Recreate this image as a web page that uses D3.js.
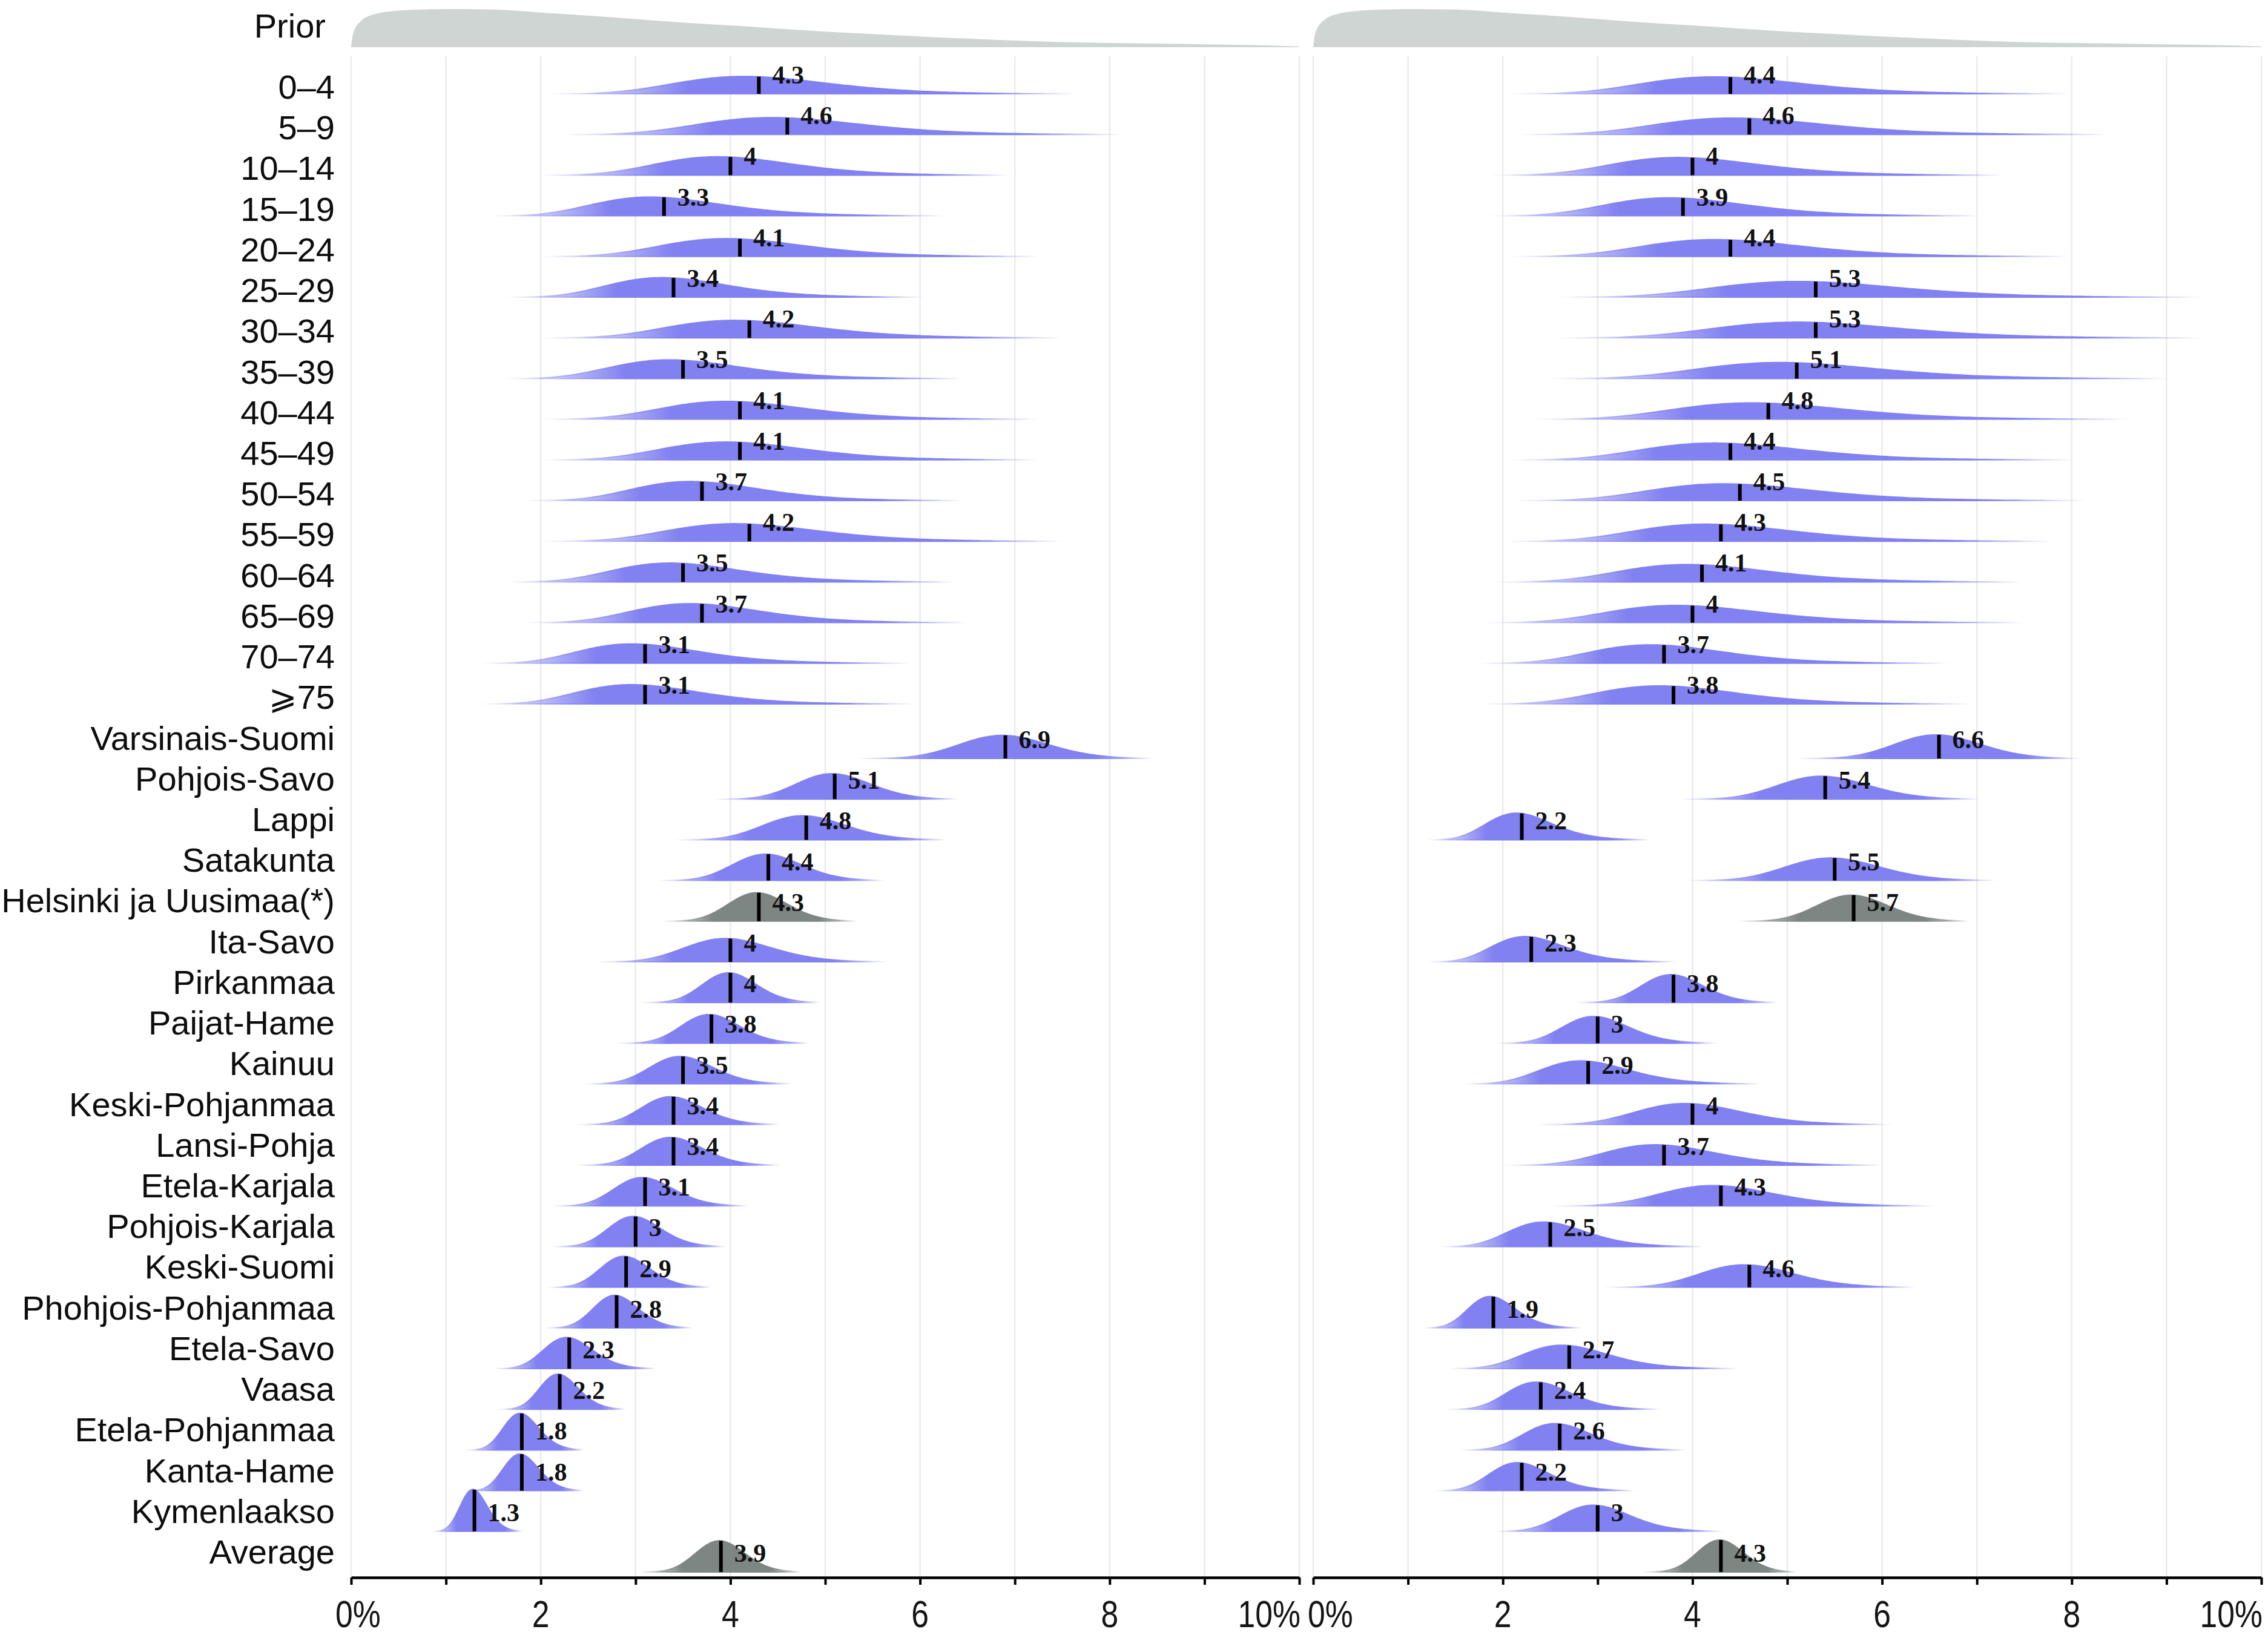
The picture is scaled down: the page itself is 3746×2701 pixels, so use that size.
<!DOCTYPE html>
<html><head><meta charset="utf-8">
<script src="https://cdn.jsdelivr.net/npm/d3@7/dist/d3.min.js"></script>
<style>body{margin:0;background:#fff}svg{display:block}</style>
</head><body>
<svg id="chart" width="3746" height="2701"></svg>
<script>
// ---------------- DATA ----------------
const ageGroups = ["0–4","5–9","10–14","15–19","20–24","25–29","30–34","35–39","40–44","45–49","50–54","55–59","60–64","65–69","70–74","⩾75"];
const regions = ["Varsinais-Suomi","Pohjois-Savo","Lappi","Satakunta","Helsinki ja Uusimaa(*)","Ita-Savo","Pirkanmaa","Paijat-Hame","Kainuu","Keski-Pohjanmaa","Lansi-Pohja","Etela-Karjala","Pohjois-Karjala","Keski-Suomi","Phohjois-Pohjanmaa","Etela-Savo","Vaasa","Etela-Pohjanmaa","Kanta-Hame","Kymenlaakso","Average"];
const highlighted = ["Helsinki ja Uusimaa(*)","Average"];

// left panel: posterior medians (%) and log-scale spread
const leftAgeMedian = [4.3,4.6,4.0,3.3,4.1,3.4,4.2,3.5,4.1,4.1,3.7,4.2,3.5,3.7,3.1,3.1];
const leftAgeSpread = [0.192,0.19,0.184,0.214,0.19,0.192,0.193,0.204,0.19,0.19,0.185,0.193,0.2,0.188,0.214,0.216];
const leftRegionMedian = [6.9,5.1,4.8,4.4,4.3,4.0,4.0,3.8,3.5,3.4,3.4,3.1,3.0,2.9,2.8,2.3,2.2,1.8,1.8,1.3,3.9];
const leftRegionSpread = [0.068,0.076,0.09,0.082,0.072,0.115,0.071,0.08,0.095,0.095,0.095,0.1,0.092,0.09,0.084,0.112,0.092,0.104,0.104,0.11,0.066];

// right panel
const rightAgeMedian = [4.4,4.6,4.0,3.9,4.4,5.3,5.3,5.1,4.8,4.4,4.5,4.3,4.1,4.0,3.7,3.8];
const rightAgeSpread = [0.198,0.2,0.2,0.197,0.198,0.19,0.19,0.19,0.195,0.2,0.198,0.198,0.2,0.21,0.198,0.2];
const rightRegionMedian = [6.6,5.4,2.2,5.5,5.7,2.3,3.8,3.0,2.9,4.0,3.7,4.3,2.5,4.6,1.9,2.7,2.4,2.6,2.2,3.0,4.3];
const rightRegionSpread = [0.068,0.088,0.16,0.09,0.065,0.17,0.085,0.117,0.163,0.141,0.161,0.14,0.166,0.108,0.133,0.169,0.141,0.138,0.145,0.122,0.057];

// prior density (relative height) read from the top strip
const priorX = [0,0.02,0.1,0.25,0.45,0.7,1.0,1.5,2,2.5,3,3.5,4,4.5,5,5.5,6,6.5,7,7.5,8,8.5,9,9.5,10];
const priorDensity = [0,0.35,0.68,0.87,0.95,0.985,1.0,0.99,0.91,0.83,0.74,0.645,0.57,0.49,0.41,0.345,0.28,0.225,0.175,0.135,0.11,0.095,0.075,0.055,0.02];

const xTickValues = [0,1,2,3,4,5,6,7,8,9,10];
const xTickLabels = {0:"0%",2:"2",4:"4",6:"6",8:"8",10:"10%"};

// ---------------- LAYOUT ----------------
const svg = d3.select("#chart");
const BLUE = "#8181f1", GRAY = "#7e8683", PRIOR = "#ced5d3";
const axisY = 2606, gridTop = 93;
const panels = [
  {range:[580,2146], ageMed:leftAgeMedian, ageSp:leftAgeSpread, regMed:leftRegionMedian, regSp:leftRegionSpread, zeroDx:-26},
  {range:[2169,3735], ageMed:rightAgeMedian, ageSp:rightAgeSpread, regMed:rightRegionMedian, regSp:rightRegionSpread, zeroDx:-9}
];
const yAge = d3.scalePoint().domain(ageGroups).range([155, 155 + 15*67.2]);
const yReg = d3.scalePoint().domain(regions).range([1253, 1253 + 20*67.2]);
const yLabel = d3.scalePoint().domain(ageGroups.concat(regions)).range([143, 2563]);
const hScale = d3.scalePow().exponent(-0.5).domain([0.153, 1]).range([67, 67*Math.sqrt(0.153)]);
const yPrior = d3.scaleLinear().domain([0,1]).range([78, 15]);

const defs = svg.append("defs");
let gid = 0;

// row labels
svg.append("g").selectAll("text").data(ageGroups.concat(regions)).join("text")
  .attr("x", 553).attr("y", d => yLabel(d) + 20)
  .attr("text-anchor","end")
  .style("font-family","'Liberation Sans', Arial, 'DejaVu Sans', sans-serif")
  .style("font-size","56px").attr("fill","#0d0d0d")
  .text(d => d);
svg.append("text").attr("x",538).attr("y",62).attr("text-anchor","end")
  .style("font-family","'Liberation Sans', Arial, sans-serif").style("font-size","56px").attr("fill","#0d0d0d")
  .text("Prior");

function relDensity(m, s) {
  const mu = Math.log(m);
  const g = x => Math.exp(-Math.pow(Math.log(x)-mu,2)/(2*s*s))/x;
  const peak = g(Math.exp(mu - s*s));
  return x => g(x)/peak;
}

panels.forEach(p => {
  const x = d3.scaleLinear().domain([0,10]).range(p.range);
  const g = svg.append("g");

  // prior
  g.append("path").datum(priorX.map((v,i)=>[v,priorDensity[i]]))
    .attr("d", d3.area().x(d=>x(d[0])).y0(yPrior(0)).y1(d=>yPrior(d[1])).curve(d3.curveMonotoneX))
    .attr("fill", PRIOR);

  // gridlines
  g.append("g").selectAll("line").data(xTickValues).join("line")
    .attr("x1", d=>x(d)).attr("x2", d=>x(d)).attr("y1", gridTop).attr("y2", axisY-2)
    .attr("stroke","#ebebeb").attr("stroke-width",2.5);

  const rows = ageGroups.map((name,i)=>({name, base:yAge(name), m:p.ageMed[i], s:p.ageSp[i]}))
    .concat(regions.map((name,i)=>({name, base:yReg(name), m:p.regMed[i], s:p.regSp[i]})));

  rows.forEach(r => {
    const f = relDensity(r.m, r.s);
    const h = hScale(r.m * r.s);
    const lo = -3.8, hi = 3.0;
    const xs = d3.range(0, 241).map(k => r.m*Math.exp(r.s*(lo + (hi-lo)*k/240))).filter(v => v <= 10);
    const pts = xs.map(v => [v, f(v)]);
    const col = highlighted.includes(r.name) ? GRAY : BLUE;
    const id = "gr" + (gid++);
    const x1 = x(r.m*Math.exp(r.s*lo)), x2 = x(r.m*Math.exp(r.s*hi));
    const grad = defs.append("linearGradient").attr("id", id).attr("gradientUnits","userSpaceOnUse")
      .attr("x1", x1).attr("x2", x2).attr("y1", 0).attr("y2", 0);
    const off = t => (t - lo)/(hi - lo);
    [[0,0],[off(-2.0),1],[off(1.7),1],[1,0]].forEach(([o,a]) =>
      grad.append("stop").attr("offset", o).attr("stop-color", col).attr("stop-opacity", a));
    g.append("path").datum(pts)
      .attr("d", d3.area().x(d=>x(d[0])).y0(r.base).y1(d=>r.base - h*d[1]))
      .attr("fill", `url(#${id})`).attr("stroke", `url(#${id})`).attr("stroke-width", 2);
    g.append("line").attr("x1", x(r.m)).attr("x2", x(r.m))
      .attr("y1", r.base).attr("y2", r.base - h*f(r.m))
      .attr("stroke","#000").attr("stroke-width",6);
    g.append("text").attr("x", x(r.m) + 22).attr("y", r.base - 17)
      .style("font-family","'Liberation Serif','Times New Roman',serif").style("font-weight","bold")
      .style("font-size","42px").attr("fill","#111").text(String(r.m));
  });

  // axis
  const ax = g.append("g").attr("transform", `translate(0,${axisY})`)
    .call(d3.axisBottom(x).tickValues(xTickValues).tickSize(12).tickSizeOuter(0).tickFormat(""));
  ax.select(".domain").attr("stroke","#000").attr("stroke-width",4.5);
  ax.selectAll(".tick line").attr("stroke","#000").attr("stroke-width",4);
  g.append("g").selectAll("text").data(xTickValues.filter(v => xTickLabels[v] !== undefined)).join("text")
    .attr("transform", v => {
      let dx = 0;
      if (v === 0) dx = p.zeroDx;
      if (v === 10) dx = 2;
      return `translate(${x(v)+dx},2688) scale(0.82,1)`;
    })
    .attr("text-anchor", v => v === 0 ? "start" : (v === 10 ? "end" : "middle"))
    .style("font-family","'Liberation Sans', Arial, sans-serif").style("font-size","63px").attr("fill","#151515")
    .text(v => xTickLabels[v]);
});
</script>
</body></html>
